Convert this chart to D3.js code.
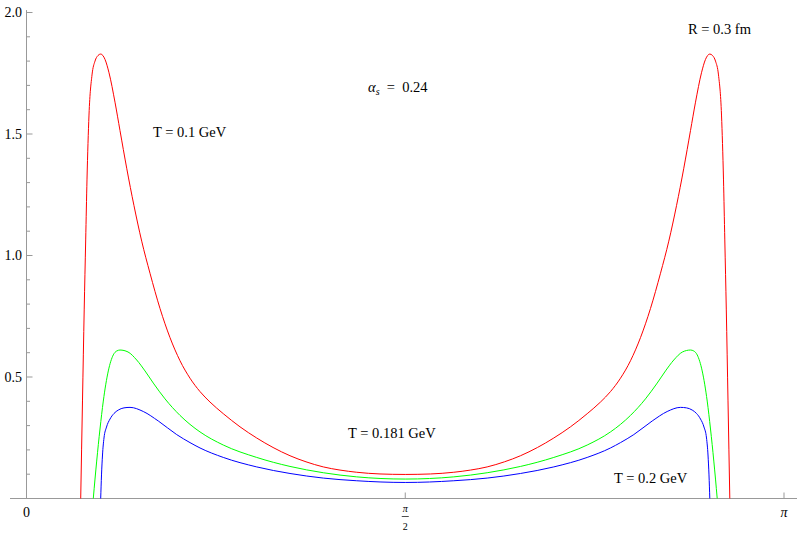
<!DOCTYPE html>
<html>
<head>
<meta charset="utf-8">
<style>
body { margin: 0; background: #fff; }
svg { display: block; }
</style>
</head>
<body>
<svg></svg>
<script src="https://d3js.org/d3.v7.min.js"></script>
<script>

const fullWidth = 803;
const fullHeight = 544;

// curves: [theta, value]
const redCurve = [
    [0.2248, 0], [0.2323, 0.405], [0.2393, 0.776], [0.2455, 1.064], [0.2509, 1.311],
    [0.2592, 1.578], [0.2717, 1.743], [0.2841, 1.800], [0.2965, 1.823], [0.3077, 1.829],
    [0.3256, 1.807], [0.3422, 1.752], [0.3670, 1.631], [0.3878, 1.514], [0.4156, 1.359],
    [0.4458, 1.205], [0.4778, 1.059], [0.5122, 0.927], [0.5537, 0.782], [0.5952, 0.662],
    [0.6366, 0.567], [0.6781, 0.495], [0.7196, 0.440], [0.7610, 0.397], [0.8162, 0.349],
    [0.8855, 0.295], [0.9547, 0.249], [1.0224, 0.210], [1.0928, 0.176], [1.1592, 0.151],
    [1.2310, 0.130], [1.3002, 0.117], [1.3695, 0.108], [1.4661, 0.101], [1.5708, 0.099],
    [1.6755, 0.101], [1.7721, 0.108], [1.8414, 0.117], [1.9106, 0.130], [1.9824, 0.151],
    [2.0488, 0.176], [2.1192, 0.210], [2.1869, 0.249], [2.2561, 0.295], [2.3254, 0.349],
    [2.3806, 0.397], [2.4220, 0.440], [2.4635, 0.495], [2.5050, 0.567], [2.5464, 0.662],
    [2.5879, 0.782], [2.6294, 0.927], [2.6638, 1.059], [2.6958, 1.205], [2.7260, 1.359],
    [2.7538, 1.514], [2.7746, 1.631], [2.7994, 1.752], [2.8160, 1.807], [2.8339, 1.829],
    [2.8451, 1.823], [2.8575, 1.800], [2.8699, 1.743], [2.8824, 1.578], [2.8907, 1.311],
    [2.8961, 1.064], [2.9023, 0.776], [2.9093, 0.405], [2.9168, 0]
];

const greenCurve = [
    [0.2770, 0], [0.2841, 0.080], [0.2911, 0.154], [0.3048, 0.286], [0.3185, 0.401],
    [0.3393, 0.525], [0.3600, 0.591], [0.3741, 0.607], [0.3878, 0.611], [0.4210, 0.603],
    [0.4570, 0.570], [0.4915, 0.525], [0.5259, 0.475], [0.5745, 0.410], [0.6366, 0.342],
    [0.6781, 0.305], [0.7196, 0.274], [0.8162, 0.220], [0.9547, 0.169], [1.0928, 0.132],
    [1.2310, 0.106], [1.3695, 0.089], [1.5708, 0.080],
    [1.7721, 0.089], [1.9106, 0.106], [2.0488, 0.132], [2.1869, 0.169], [2.3254, 0.220],
    [2.4220, 0.274], [2.4635, 0.305], [2.5050, 0.342], [2.5671, 0.410], [2.6157, 0.475],
    [2.6501, 0.525], [2.6846, 0.570], [2.7206, 0.603], [2.7538, 0.611], [2.7675, 0.607],
    [2.7816, 0.591], [2.8023, 0.525], [2.8231, 0.401], [2.8368, 0.286], [2.8505, 0.154],
    [2.8575, 0.080], [2.8646, 0]
];

const blueCurve = [
    [0.3077, 0], [0.3111, 0.097], [0.3152, 0.179], [0.3214, 0.249], [0.3318, 0.294],
    [0.3463, 0.327], [0.3629, 0.350], [0.3807, 0.364], [0.4044, 0.373], [0.4293, 0.375],
    [0.4844, 0.358], [0.5466, 0.319], [0.6229, 0.263], [0.6781, 0.230], [0.7196, 0.208],
    [0.8162, 0.169], [0.9547, 0.130], [1.0928, 0.103], [1.2310, 0.084], [1.3695, 0.073],
    [1.5708, 0.066],
    [1.7721, 0.073], [1.9106, 0.084], [2.0488, 0.103], [2.1869, 0.130], [2.3254, 0.169],
    [2.4220, 0.208], [2.4635, 0.230], [2.5187, 0.263], [2.5950, 0.319], [2.6572, 0.358],
    [2.7123, 0.375], [2.7372, 0.373], [2.7609, 0.364], [2.7787, 0.350], [2.7953, 0.327],
    [2.8098, 0.294], [2.8202, 0.249], [2.8264, 0.179], [2.8305, 0.097], [2.8339, 0]
];

const yMajorTicks = [0.5, 1.0, 1.5, 2.0];
const yTickLabels = ['0.5', '1.0', '1.5', '2.0'];
const yMinorTicks = [0.1, 0.2, 0.3, 0.4, 0.6, 0.7, 0.8, 0.9, 1.1, 1.2, 1.3, 1.4, 1.6, 1.7, 1.8, 1.9];
const xTicks = [Math.PI / 2, Math.PI];

const axisColor = '#999999';
const serif = "'Liberation Serif', 'DejaVu Serif', serif";

const svg = d3.select('svg')
    .attr('width', fullWidth)
    .attr('height', fullHeight)
    .attr('font-family', serif);

const x = d3.scaleLinear()
    .domain([0, Math.PI])
    .range([26.5, 784]);

const y = d3.scaleLinear()
    .domain([0, 2])
    .range([498.5, 12.5]);

// axes
svg.append('line')
    .attr('x1', 10).attr('x2', 797)
    .attr('y1', y(0)).attr('y2', y(0))
    .attr('stroke', axisColor);

svg.append('line')
    .attr('x1', x(0)).attr('x2', x(0))
    .attr('y1', y(0)).attr('y2', y(2.01))
    .attr('stroke', axisColor);

svg.selectAll('.ymajor')
    .data(yMajorTicks)
    .join('line')
    .attr('x1', x(0)).attr('x2', x(0) + 6)
    .attr('y1', d => y(d)).attr('y2', d => y(d))
    .attr('stroke', axisColor);

svg.selectAll('.yminor')
    .data(yMinorTicks)
    .join('line')
    .attr('x1', x(0)).attr('x2', x(0) + 3.5)
    .attr('y1', d => y(d)).attr('y2', d => y(d))
    .attr('stroke', axisColor);

svg.selectAll('.ylabel')
    .data(yMajorTicks)
    .join('text')
    .attr('x', 22)
    .attr('y', d => y(d) + 4.5)
    .attr('text-anchor', 'end')
    .attr('font-size', 14)
    .text((d, i) => yTickLabels[i]);

svg.selectAll('.xtick')
    .data(xTicks)
    .join('line')
    .attr('x1', d => x(d)).attr('x2', d => x(d))
    .attr('y1', y(0)).attr('y2', y(0) - 6)
    .attr('stroke', axisColor);

// x tick labels
svg.append('text')
    .attr('x', x(0)).attr('y', 517)
    .attr('text-anchor', 'middle')
    .attr('font-size', 14)
    .text('0');

const half = svg.append('g').attr('transform', `translate(${x(Math.PI / 2)},0)`);
half.append('text')
    .attr('x', 0).attr('y', 512)
    .attr('text-anchor', 'middle')
    .attr('font-size', 10)
    .attr('font-style', 'italic')
    .text('π');
half.append('line')
    .attr('x1', -3.5).attr('x2', 3.5)
    .attr('y1', 516.5).attr('y2', 516.5)
    .attr('stroke', '#000')
    .attr('stroke-width', 0.7);
half.append('text')
    .attr('x', 0).attr('y', 529.5)
    .attr('text-anchor', 'middle')
    .attr('font-size', 10)
    .text('2');

svg.append('text')
    .attr('x', x(Math.PI)).attr('y', 517)
    .attr('text-anchor', 'middle')
    .attr('font-size', 14)
    .attr('font-style', 'italic')
    .text('π');

// curves
const line = d3.line()
    .x(d => x(d[0]))
    .y(d => y(d[1]))
    .curve(d3.curveMonotoneX);

[[redCurve, '#ff0000'], [greenCurve, '#00ff00'], [blueCurve, '#0000ff']].forEach(([data, color]) => {
    svg.append('path')
        .attr('d', line(data))
        .attr('fill', 'none')
        .attr('stroke', color)
        .attr('stroke-width', 1);
});

// annotations
const labels = [
    { text: 'T = 0.1 GeV', x: 153, y: 136.5 },
    { text: 'T = 0.181 GeV', x: 348, y: 437.5 },
    { text: 'T = 0.2 GeV', x: 614, y: 483 },
    { text: 'R = 0.3 fm', x: 688, y: 34 },
];

svg.selectAll('.note')
    .data(labels)
    .join('text')
    .attr('x', d => d.x)
    .attr('y', d => d.y)
    .attr('font-size', 14.5)
    .text(d => d.text);

const alpha = svg.append('text')
    .attr('x', 368)
    .attr('y', 91.5)
    .attr('font-size', 14.5)
    .style('white-space', 'pre');
alpha.append('tspan').attr('font-style', 'italic').text('α');
alpha.append('tspan').attr('font-style', 'italic').attr('font-size', 10).attr('dy', 3).text('s');
alpha.append('tspan').attr('dy', -3).text('  =  0.24');

</script>
</body>
</html>
